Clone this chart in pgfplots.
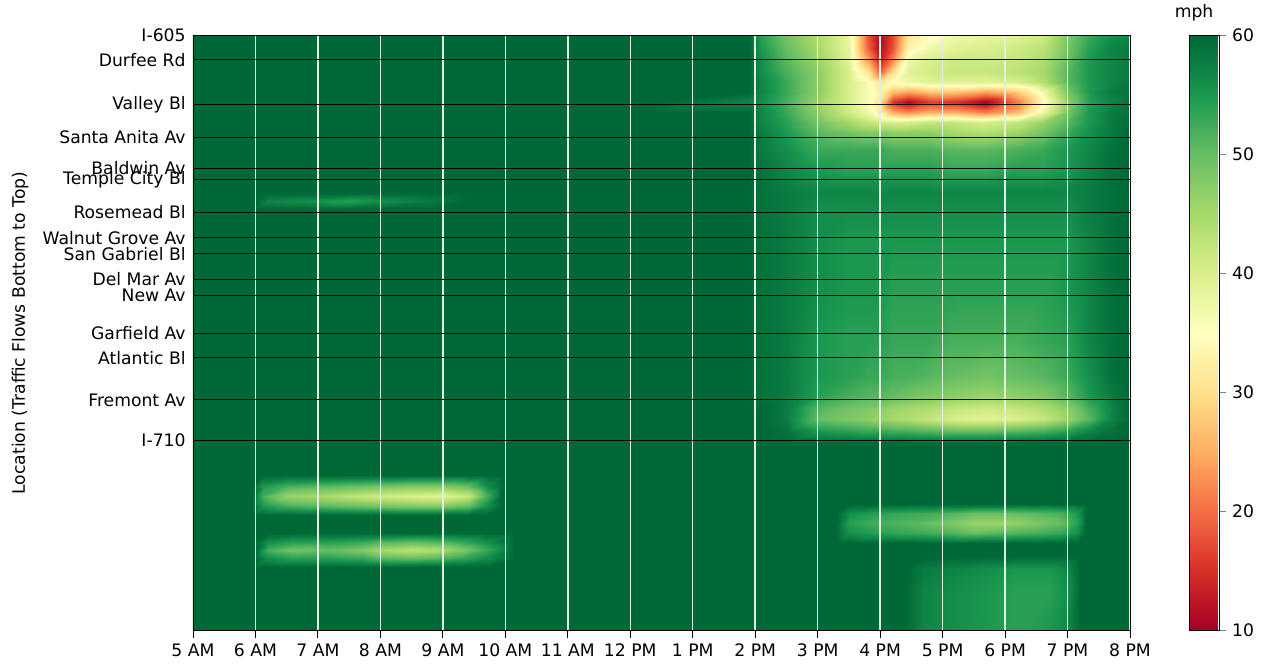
\documentclass[border=0pt]{standalone}
\usepackage{fontspec}
\setmainfont{DejaVu Sans}
\usepackage{pgfplots}
\pgfplotsset{compat=1.18}
\usetikzlibrary{calc}
\definecolor{bg}{RGB}{0,104,55}
\definecolor{vgrid}{RGB}{222,240,226}
\pgfplotsset{
  colormap={RdYlGn}{rgb255(0)=(165,0,38) rgb255(1)=(215,48,39) rgb255(2)=(244,109,67) rgb255(3)=(253,174,97) rgb255(4)=(254,224,139) rgb255(5)=(255,255,191) rgb255(6)=(217,239,139) rgb255(7)=(166,217,106) rgb255(8)=(102,189,99) rgb255(9)=(26,152,80) rgb255(10)=(0,104,55)},
}
\begin{document}
\fontsize{8.6}{10}\selectfont
\begin{tikzpicture}
\useasboundingbox (0,0) rectangle (631pt,332pt);
\begin{axis}[
  at={(96.5pt,16.75pt)}, anchor=south west,
  scale only axis, width=468.5pt, height=297.5pt,
  xmin=5, xmax=20, ymin=0, ymax=595,
  axis on top,
  axis background/.style={fill=bg},
  colormap name=RdYlGn,
  point meta min=10, point meta max=60,
  colorbar,
  colorbar style={
    at={($(parent axis.north east)+(21pt,0)$)}, anchor=north west,
    scale only axis, width=15pt,
    ytick={10,20,30,40,50,60},
    ytick align=outside, ytick pos=right, major tick length=3.5pt,
    yticklabel style={/pgf/number format/assume math mode=true, font=\fontsize{8.6}{10}\selectfont},
    title={mph}, title style={font=\fontsize{8.6}{10}\selectfont, yshift=-2pt, xshift=-5pt},
    axis line style={black, line width=0.5pt},
  },
  xtick={5,...,20},
  xticklabels={5 AM,6 AM,7 AM,8 AM,9 AM,10 AM,11 AM,12 PM,1 PM,2 PM,3 PM,4 PM,5 PM,6 PM,7 PM,8 PM},
  ytick={190,230.5,272.5,297,335,351,376.5,392.5,418,450.5,462,493,525.5,570.5,595},
  yticklabels={I-710,Fremont Av,Atlantic Bl,Garfield Av,New Av,Del Mar Av,San Gabriel Bl,Walnut Grove Av,Rosemead Bl,Temple City Bl,Baldwin Av,Santa Anita Av,Valley Bl,Durfee Rd,I-605},
  xmajorgrids, ymajorgrids,
  major x grid style={vgrid, line width=0.75pt},
  major y grid style={black, line width=0.5pt, opacity=0.9},
  xtick align=outside, xtick pos=bottom, ytick pos=left, major tick length=3.5pt,
  ytick style={draw=none},
  x tick style={black, line width=0.5pt},
  yticklabel style={inner sep=0pt, xshift=-3.5pt},
  xticklabel style={font=\fontsize{8.6}{10}\selectfont},
  ylabel={Location (Traffic Flows Bottom to Top)},
  every axis y label/.style={at={(axis description cs:-0.1846,0.5)}, rotate=90, anchor=center, font=\fontsize{8.6}{10}\selectfont},
  axis line style={black, line width=0.5pt},
]
% afternoon congestion region (top)
\addplot[surf, shader=interp, mesh/cols=19, point meta=explicit] table[x index=0, y index=1, meta index=2, row sep=\\] {
12.3 595 60\\13.9 595 60\\14.1 595 54\\14.5 595 49\\15 595 44\\15.5 595 38\\15.8 595 18\\16 595 11\\16.2 595 17\\16.45 595 31\\16.8 595 34\\17.2 595 37\\17.7 595 38\\18.2 595 39\\18.6 595 41\\19 595 48\\19.35 595 53\\19.7 595 56\\20 595 57\\
12.3 582 60\\13.9 582 60\\14.1 582 55\\14.5 582 50\\15 582 45\\15.5 582 38\\15.8 582 19\\16 582 11\\16.2 582 18\\16.45 582 33\\16.8 582 37\\17.2 582 39\\17.7 582 40\\18.2 582 41\\18.6 582 43\\19 582 49\\19.35 582 54\\19.7 582 57\\20 582 58\\
12.3 570 60\\13.9 570 60\\14.1 570 56\\14.5 570 51\\15 570 46\\15.5 570 39\\15.8 570 24\\16 570 13\\16.2 570 22\\16.45 570 37\\16.8 570 40\\17.2 570 41\\17.7 570 41\\18.2 570 42\\18.6 570 44\\19 570 50\\19.35 570 55\\19.7 570 57\\20 570 58\\
12.3 558 60\\13.9 558 60\\14.1 558 56\\14.5 558 52\\15 558 47\\15.5 558 40\\15.8 558 31\\16 558 19\\16.2 558 30\\16.45 558 39\\16.8 558 41\\17.2 558 42\\17.7 558 42\\18.2 558 43\\18.6 558 45\\19 558 51\\19.35 558 55\\19.7 558 57\\20 558 58\\
12.3 548 60\\13.9 548 60\\14.1 548 57\\14.5 548 53\\15 548 47\\15.5 548 40\\15.8 548 36\\16 548 31\\16.2 548 35\\16.45 548 37\\16.8 548 39\\17.2 548 39\\17.7 548 39\\18.2 548 40\\18.6 548 44\\19 548 51\\19.35 548 55\\19.7 548 57\\20 548 59\\
12.3 538 60\\13.9 538 60\\14.1 538 57\\14.5 538 53\\15 538 47\\15.5 538 40\\15.8 538 36\\16 538 33\\16.2 538 26\\16.45 538 24\\16.8 538 27\\17.2 538 27\\17.7 538 24\\18.2 538 28\\18.6 538 37\\19 538 49\\19.35 538 55\\19.7 538 58\\20 538 59\\
12.3 528 60\\13.9 528 57\\14.1 528 56\\14.5 528 52\\15 528 46\\15.5 528 40\\15.8 528 36\\16 528 30\\16.2 528 15\\16.45 528 11\\16.8 528 16\\17.2 528 15\\17.7 528 10\\18.2 528 21\\18.6 528 34\\19 528 47\\19.35 528 54\\19.7 528 57\\20 528 59\\
12.3 518 60\\13.9 518 60\\14.1 518 57\\14.5 518 53\\15 518 47\\15.5 518 41\\15.8 518 37\\16 518 33\\16.2 518 25\\16.45 518 22\\16.8 518 25\\17.2 518 25\\17.7 518 21\\18.2 518 26\\18.6 518 37\\19 518 49\\19.35 518 55\\19.7 518 58\\20 518 59\\
12.3 508 60\\13.9 508 60\\14.1 508 57\\14.5 508 54\\15 508 49\\15.5 508 45\\15.8 508 42\\16 508 41\\16.2 508 40\\16.45 508 40\\16.8 508 42\\17.2 508 42\\17.7 508 40\\18.2 508 42\\18.6 508 46\\19 508 51\\19.35 508 55\\19.7 508 58\\20 508 60\\
12.3 497 60\\13.9 497 60\\14.1 497 58\\14.5 497 55\\15 497 51\\15.5 497 49\\15.8 497 48\\16 497 48\\16.2 497 47\\16.45 497 47\\16.8 497 47\\17.2 497 45\\17.7 497 44\\18.2 497 46\\18.6 497 49\\19 497 53\\19.35 497 56\\19.7 497 58\\20 497 60\\
12.3 480 60\\13.9 480 60\\14.1 480 58\\14.5 480 56\\15 480 53\\15.5 480 53\\15.8 480 53\\16 480 53\\16.2 480 52\\16.45 480 52\\16.8 480 52\\17.2 480 51\\17.7 480 51\\18.2 480 52\\18.6 480 53\\19 480 55\\19.35 480 57\\19.7 480 59\\20 480 60\\
12.3 460 60\\13.9 460 60\\14.1 460 59\\14.5 460 57\\15 460 55\\15.5 460 54\\15.8 460 54\\16 460 54\\16.2 460 54\\16.45 460 54\\16.8 460 54\\17.2 460 53\\17.7 460 53\\18.2 460 54\\18.6 460 54\\19 460 55\\19.35 460 57\\19.7 460 59\\20 460 60\\
12.3 438 60\\13.9 438 60\\14.1 438 59\\14.5 438 58\\15 438 57\\15.5 438 57\\15.8 438 57\\16 438 57\\16.2 438 57\\16.45 438 57\\16.8 438 57\\17.2 438 57\\17.7 438 57\\18.2 438 57\\18.6 438 57\\19 438 57\\19.35 438 58\\19.7 438 59\\20 438 60\\
12.3 420 60\\13.9 420 60\\14.1 420 59\\14.5 420 58\\15 420 56\\15.5 420 56\\15.8 420 56\\16 420 56\\16.2 420 56\\16.45 420 56\\16.8 420 56\\17.2 420 56\\17.7 420 56\\18.2 420 56\\18.6 420 56\\19 420 56\\19.35 420 58\\19.7 420 59\\20 420 60\\
12.3 390 60\\13.9 390 60\\14.1 390 59\\14.5 390 58\\15 390 56\\15.5 390 55\\15.8 390 55\\16 390 55\\16.2 390 55\\16.45 390 55\\16.8 390 55\\17.2 390 55\\17.7 390 55\\18.2 390 55\\18.6 390 55\\19 390 55\\19.35 390 57\\19.7 390 59\\20 390 60\\
12.3 340 60\\13.9 340 60\\14.1 340 59\\14.5 340 58\\15 340 56\\15.5 340 55\\15.8 340 55\\16 340 55\\16.2 340 54\\16.45 340 54\\16.8 340 54\\17.2 340 54\\17.7 340 54\\18.2 340 54\\18.6 340 54\\19 340 55\\19.35 340 57\\19.7 340 59\\20 340 60\\
12.3 290 60\\13.9 290 60\\14.1 290 59\\14.5 290 58\\15 290 55\\15.5 290 54\\15.8 290 54\\16 290 54\\16.2 290 53\\16.45 290 53\\16.8 290 53\\17.2 290 52\\17.7 290 52\\18.2 290 52\\18.6 290 53\\19 290 54\\19.35 290 57\\19.7 290 59\\20 290 60\\
12.3 255 60\\13.9 255 60\\14.1 255 59\\14.5 255 58\\15 255 55\\15.5 255 54\\15.8 255 53\\16 255 53\\16.2 255 52\\16.45 255 52\\16.8 255 51\\17.2 255 50\\17.7 255 49\\18.2 255 50\\18.6 255 51\\19 255 53\\19.35 255 56\\19.7 255 59\\20 255 60\\
12.3 235 60\\13.9 235 60\\14.1 235 59\\14.5 235 58\\15 235 54\\15.5 235 52\\15.8 235 51\\16 235 51\\16.2 235 50\\16.45 235 49\\16.8 235 48\\17.2 235 47\\17.7 235 46\\18.2 235 47\\18.6 235 48\\19 235 51\\19.35 235 55\\19.7 235 58\\20 235 60\\
12.3 222 60\\13.9 222 60\\14.1 222 60\\14.5 222 58\\15 222 51\\15.5 222 49\\15.8 222 48\\16 222 47\\16.2 222 46\\16.45 222 45\\16.8 222 44\\17.2 222 42\\17.7 222 41\\18.2 222 42\\18.6 222 44\\19 222 47\\19.35 222 52\\19.7 222 57\\20 222 60\\
12.3 212 60\\13.9 212 60\\14.1 212 60\\14.5 212 58\\15 212 50\\15.5 212 48\\15.8 212 47\\16 212 46\\16.2 212 45\\16.45 212 44\\16.8 212 42\\17.2 212 40\\17.7 212 39\\18.2 212 40\\18.6 212 42\\19 212 46\\19.35 212 51\\19.7 212 57\\20 212 60\\
12.3 200 60\\13.9 200 60\\14.1 200 60\\14.5 200 59\\15 200 55\\15.5 200 54\\15.8 200 53\\16 200 53\\16.2 200 52\\16.45 200 52\\16.8 200 51\\17.2 200 50\\17.7 200 50\\18.2 200 51\\18.6 200 52\\19 200 54\\19.35 200 57\\19.7 200 59\\20 200 60\\
12.3 188 60\\13.9 188 60\\14.1 188 60\\14.5 188 60\\15 188 60\\15.5 188 60\\15.8 188 60\\16 188 60\\16.2 188 60\\16.45 188 60\\16.8 188 60\\17.2 188 60\\17.7 188 60\\18.2 188 60\\18.6 188 60\\19 188 60\\19.35 188 60\\19.7 188 60\\20 188 60\\
};
% Rosemead faint morning line
\addplot[surf, shader=interp, mesh/cols=7, point meta=explicit] table[x index=0, y index=1, meta index=2, row sep=\\] {
6 437 60\\6.2 437 60\\6.8 437 60\\7.5 437 60\\8 437 60\\8.8 437 60\\9.4 437 60\\
6 429 60\\6.2 429 57\\6.8 429 56\\7.5 429 54\\8 429 56\\8.8 429 58\\9.4 429 60\\
6 422 60\\6.2 422 60\\6.8 422 60\\7.5 422 60\\8 422 60\\8.8 422 60\\9.4 422 60\\
};
% morning blob 1
\addplot[surf, shader=interp, mesh/cols=11, point meta=explicit] table[x index=0, y index=1, meta index=2, row sep=\\] {
5.95 156 60\\6.12 156 60\\6.5 156 60\\7 156 60\\7.5 156 60\\8 156 60\\8.5 156 60\\9 156 60\\9.4 156 60\\9.7 156 60\\9.95 156 60\\
5.95 145 60\\6.12 145 55\\6.5 145 52\\7 145 51\\7.5 145 50\\8 145 49\\8.5 145 48\\9 145 48\\9.4 145 50\\9.7 145 56\\9.95 145 60\\
5.95 135 60\\6.12 135 52\\6.5 135 46\\7 135 45\\7.5 135 43\\8 135 41\\8.5 135 40\\9 135 39\\9.4 135 42\\9.7 135 52\\9.95 135 60\\
5.95 125 60\\6.12 125 55\\6.5 125 52\\7 125 51\\7.5 125 50\\8 125 49\\8.5 125 48\\9 125 48\\9.4 125 50\\9.7 125 56\\9.95 125 60\\
5.95 116 60\\6.12 116 60\\6.5 116 60\\7 116 60\\7.5 116 60\\8 116 60\\8.5 116 60\\9 116 60\\9.4 116 60\\9.7 116 60\\9.95 116 60\\
};
% morning blob 2
\addplot[surf, shader=interp, mesh/cols=11, point meta=explicit] table[x index=0, y index=1, meta index=2, row sep=\\] {
6 98 60\\6.2 98 60\\6.6 98 60\\7.2 98 60\\7.7 98 60\\8 98 60\\8.5 98 60\\8.9 98 60\\9.3 98 60\\9.7 98 60\\10.15 98 60\\
6 89 60\\6.2 89 56\\6.6 89 54\\7.2 89 54\\7.7 89 53\\8 89 51\\8.5 89 50\\8.9 89 51\\9.3 89 53\\9.7 89 56\\10.15 89 60\\
6 81 60\\6.2 81 52\\6.6 81 49\\7.2 81 50\\7.7 81 48\\8 81 45\\8.5 81 43\\8.9 81 44\\9.3 81 48\\9.7 81 53\\10.15 81 60\\
6 73 60\\6.2 73 56\\6.6 73 54\\7.2 73 54\\7.7 73 53\\8 73 51\\8.5 73 50\\8.9 73 51\\9.3 73 53\\9.7 73 56\\10.15 73 60\\
6 64 60\\6.2 64 60\\6.6 64 60\\7.2 64 60\\7.7 64 60\\8 64 60\\8.5 64 60\\8.9 64 60\\9.3 64 60\\9.7 64 60\\10.15 64 60\\
};
% afternoon blob 1
\addplot[surf, shader=interp, mesh/cols=11, point meta=explicit] table[x index=0, y index=1, meta index=2, row sep=\\] {
15.3 127 60\\15.5 127 60\\16 127 60\\16.5 127 60\\17 127 60\\17.5 127 60\\18 127 60\\18.5 127 60\\18.9 127 60\\19.15 127 60\\19.3 127 60\\
15.3 118 60\\15.5 118 56\\16 118 54\\16.5 118 53\\17 118 52\\17.5 118 50\\18 118 50\\18.5 118 51\\18.9 118 52\\19.15 118 55\\19.3 118 60\\
15.3 108 60\\15.5 108 54\\16 108 52\\16.5 108 51\\17 108 49\\17.5 108 46\\18 108 46\\18.5 108 48\\18.9 108 50\\19.15 108 54\\19.3 108 60\\
15.3 98 60\\15.5 98 56\\16 98 54\\16.5 98 53\\17 98 52\\17.5 98 50\\18 98 51\\18.5 98 52\\18.9 98 53\\19.15 98 56\\19.3 98 60\\
15.3 88 60\\15.5 88 60\\16 88 60\\16.5 88 60\\17 88 60\\17.5 88 60\\18 88 60\\18.5 88 60\\18.9 88 60\\19.15 88 60\\19.3 88 60\\
};
% afternoon blob 2 (bottom)
\addplot[surf, shader=interp, mesh/cols=8, point meta=explicit] table[x index=0, y index=1, meta index=2, row sep=\\] {
16.4 75 60\\16.7 75 60\\17.2 75 60\\17.7 75 60\\18.2 75 60\\18.7 75 60\\19 75 60\\19.2 75 60\\
16.4 62 60\\16.7 62 58\\17.2 62 57\\17.7 62 56\\18.2 62 55\\18.7 62 55\\19 62 57\\19.2 62 60\\
16.4 40 60\\16.7 40 57\\17.2 40 56\\17.7 40 55\\18.2 40 54\\18.7 40 54\\19 40 56\\19.2 40 60\\
16.4 0 60\\16.7 0 57\\17.2 0 56\\17.7 0 55\\18.2 0 54\\18.7 0 55\\19 0 57\\19.2 0 60\\
};
\end{axis}
\end{tikzpicture}
\end{document}
